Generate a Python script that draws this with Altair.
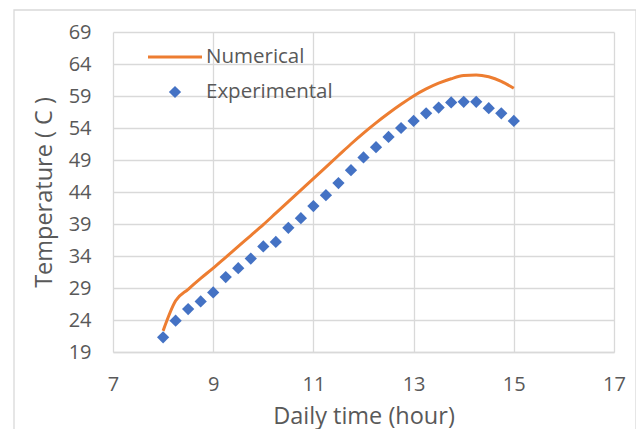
import altair as alt
import pandas as pd

# Experimental (every 0.25 h from 8 to 15)
exp_time = [8.0, 8.25, 8.5, 8.75, 9.0, 9.25, 9.5, 9.75, 10.0, 10.25, 10.5, 10.75, 11.0,
            11.25, 11.5, 11.75, 12.0, 12.25, 12.5, 12.75, 13.0, 13.25, 13.5, 13.75, 14.0,
            14.25, 14.5, 14.75, 15.0]
exp_temp = [21.3, 23.9, 25.7, 26.9, 28.3, 30.7, 32.1, 33.6, 35.5, 36.2, 38.4, 39.9, 41.8,
            43.5, 45.4, 47.4, 49.4, 51.0, 52.6, 54.0, 55.1, 56.3, 57.2, 58.0, 58.1,
            58.1, 57.1, 56.3, 55.1]

# Numerical
num_time = [8.0, 8.25, 8.5, 8.75, 9.0, 9.25, 9.5, 9.75, 10.0, 10.25, 10.5, 10.75, 11.0,
            11.25, 11.5, 11.75, 12.0, 12.25, 12.5, 12.75, 13.0, 13.25, 13.5, 13.75, 14.0,
            14.25, 14.5, 14.75, 15.0]
num_temp = [22.3, 27.0, 28.8, 30.5, 32.1, 33.8, 35.5, 37.2, 38.9, 40.7, 42.5, 44.3, 46.1,
            47.9, 49.7, 51.5, 53.2, 54.8, 56.3, 57.7, 59.0, 60.1, 61.0, 61.7, 62.2,
            62.3, 62.0, 61.3, 60.2]

x_ticks = [7, 9, 11, 13, 15, 17]
y_ticks = [19, 24, 29, 34, 39, 44, 49, 54, 59, 64, 69]

legend_labels = ["Numerical", "Experimental"]

ORANGE = "#ED7D31"
BLUE = "#4472C4"
TXT = "#595959"
GRID = "#D9D9D9"
FONT = "Open Sans"

exp_df = pd.DataFrame({"t": exp_time, "T": exp_temp})
num_df = pd.DataFrame({"t": num_time, "T": num_temp})

x_scale = alt.Scale(domain=[7, 17], nice=False, zero=False)
y_scale = alt.Scale(domain=[19, 69], nice=False, zero=False)

x_axis = alt.Axis(values=x_ticks, title="Daily time (hour)", grid=True, gridColor=GRID, gridWidth=1.3,
                  domain=True, domainColor=GRID, domainWidth=1.3, ticks=False, labelPadding=22,
                  labelFontSize=20, labelColor=TXT, labelFont=FONT, labelOverlap=False,
                  labelFlush=False,
                  titleFontSize=23.5, titleColor=TXT, titleFont=FONT, titleFontWeight="normal",
                  titleY=64, titleBaseline="middle")
y_axis = alt.Axis(values=y_ticks, title="Temperature ( C )", grid=True, gridColor=GRID, gridWidth=1.3,
                  domain=False, ticks=False, labelPadding=22, tickCount=11,
                  labelFontSize=20, labelColor=TXT, labelFont=FONT, labelOverlap=False,
                  labelFlush=False,
                  titleFontSize=23.5, titleColor=TXT, titleFont=FONT, titleFontWeight="normal",
                  titleX=-69, titleY=160, titleBaseline="middle", titleAngle=270)

frame = alt.Chart(pd.DataFrame({"a": [0]})).mark_rect(
    fill=None, stroke=GRID, strokeWidth=1.3
).encode(x=alt.value(-99), x2=alt.value(523), y=alt.value(-22), y2=alt.value(440))

line = alt.Chart(num_df).mark_line(color=ORANGE, strokeWidth=3, interpolate="monotone").encode(
    x=alt.X("t:Q", scale=x_scale, axis=x_axis),
    y=alt.Y("T:Q", scale=y_scale, axis=y_axis),
)
pts = alt.Chart(exp_df).mark_point(shape="diamond", filled=True, color=BLUE, size=150, opacity=1).encode(
    x=alt.X("t:Q", scale=x_scale, axis=x_axis),
    y=alt.Y("T:Q", scale=y_scale, axis=y_axis),
)

leg_line = alt.Chart(pd.DataFrame({"a": [0]})).mark_rule(color=ORANGE, strokeWidth=3).encode(
    x=alt.value(35), x2=alt.value(89), y=alt.value(25))
leg_pt = alt.Chart(pd.DataFrame({"a": [0]})).mark_point(shape="diamond", filled=True, color=BLUE,
                                                         size=150, opacity=1).encode(
    x=alt.value(62), y=alt.value(60))
leg_txt1 = alt.Chart(pd.DataFrame({"label": [legend_labels[0]]})).mark_text(
    align="left", baseline="middle", fontSize=20.5, font=FONT, color=TXT).encode(
    x=alt.value(93), y=alt.value(25), text="label:N")
leg_txt2 = alt.Chart(pd.DataFrame({"label": [legend_labels[1]]})).mark_text(
    align="left", baseline="middle", fontSize=20.5, font=FONT, color=TXT).encode(
    x=alt.value(93), y=alt.value(60), text="label:N")

chart = alt.layer(frame, line, pts, leg_line, leg_pt, leg_txt1, leg_txt2).properties(
    width=501, height=320,
    autosize=alt.AutoSizeParams(type="none"),
    padding={"left": 105, "top": 24, "right": 22, "bottom": 77},
    background="white",
).configure_view(stroke=None)

chart.save("out.html", embed_options={"renderer": "svg", "actions": False})
